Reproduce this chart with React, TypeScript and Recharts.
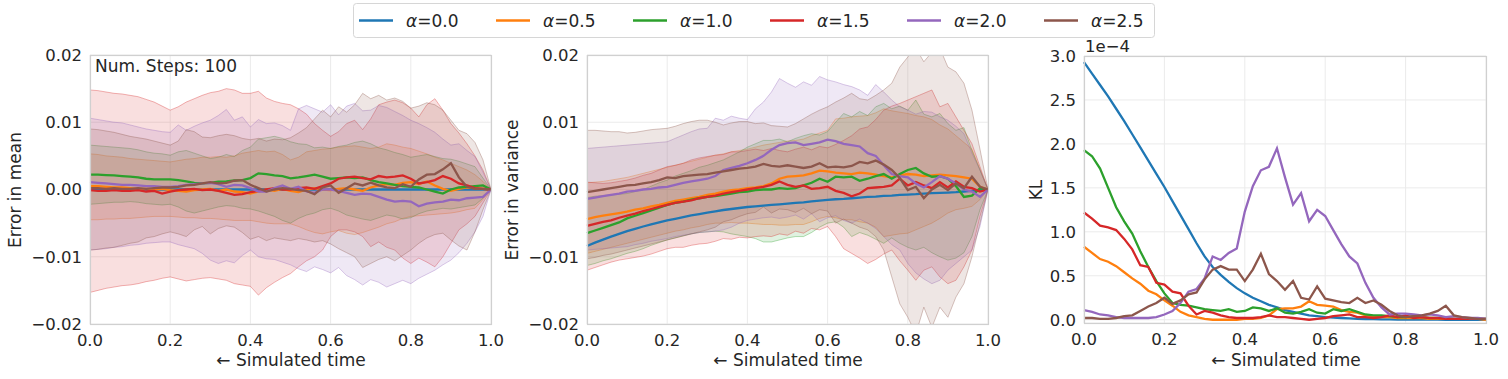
import { ComposedChart, Line, Area, XAxis, YAxis, CartesianGrid } from 'recharts';

const FONT = '"DejaVu Sans", Verdana, sans-serif';
const INK = '#262626';
const COLORS = ['#1f77b4', '#ff7f0e', '#2ca02c', '#d62728', '#9467bd', '#8c564b'];
const ALPHAS = ['0.0', '0.5', '1.0', '1.5', '2.0', '2.5'];

const TIME = [0, 0.02, 0.04, 0.06, 0.08, 0.1, 0.12, 0.14, 0.16, 0.18, 0.2, 0.22, 0.24, 0.26, 0.28, 0.3, 0.32, 0.34, 0.36, 0.38, 0.4, 0.42, 0.44, 0.46, 0.48, 0.5, 0.52, 0.54, 0.56, 0.58, 0.6, 0.62, 0.64, 0.66, 0.68, 0.7, 0.72, 0.74, 0.76, 0.78, 0.8, 0.82, 0.84, 0.86, 0.88, 0.9, 0.92, 0.94, 0.96, 0.98, 1];
const X_TICKS = [0, 0.2, 0.4, 0.6, 0.8, 1.0];
const ERR_TICKS = [-20, -10, 0, 10, 20]; // units of 1e-3
const KL_TICKS = [0, 0.5, 1.0, 1.5, 2.0, 2.5, 3.0]; // units of 1e-4

// error in mean (x1e-3)
const MEAN_A00 = [0,0,0,0,0,0,0,0,0,0,0,0,0,0,0,0,0,0,0,0,0,0,0,0,0,0,0,0,0,0,0,0,0,0,0,0,0,0,0,0,0,0,0,0,0,0,0,0,0,0,0];
const MEAN_A05 = [0.5,0.5,0.4,0.3,0.3,0.2,0.1,0.1,0.0,0.1,-0.1,-0.2,-0.3,-0.1,0.0,0.1,-0.2,0.0,-0.3,-0.4,-0.6,-0.3,0.0,-0.2,0.1,-0.2,-0.4,0.0,0.2,0.0,-0.1,0.1,0.2,0.0,-0.2,0.3,0.6,0.8,0.7,1.0,1.1,0.8,1.2,0.6,0.1,-0.2,0.1,0.3,0.2,0.1,0.0];
const MEAN_A10 = [2.2,2.2,2.15,2.1,2.0,1.9,1.8,1.6,1.5,1.5,1.5,1.4,1.2,1.0,0.9,1.0,1.15,1.2,1.35,1.4,1.7,2.4,2.3,2.1,2.0,1.65,1.8,2.0,2.2,1.9,1.6,1.7,1.8,1.7,1.8,1.4,1.1,0.9,0.7,0.5,0.4,0.3,0.0,-0.3,-0.6,0.0,0.3,0.4,0.5,0.6,0.0];
const MEAN_A15 = [-0.1,-0.2,-0.2,-0.1,-0.2,-0.2,-0.1,-0.3,-0.2,-0.6,-0.3,-0.1,0.0,0.1,-0.1,0.0,-0.2,-0.5,-0.8,-0.7,-0.4,-0.2,0.0,0.2,0.0,0.0,0.2,0.3,0.1,0.5,0.9,1.6,1.8,1.9,1.7,1.5,2.0,1.8,1.9,2.1,1.6,0.9,1.1,1.4,2.0,1.6,0.9,0.6,0.2,0.1,0.0];
const MEAN_A20 = [1.1,1.0,0.9,0.8,0.7,0.7,0.6,0.5,0.5,0.4,0.4,0.5,0.7,0.8,0.9,1.0,0.8,0.4,0.7,0.6,0.2,-0.3,-0.3,0.2,0.6,0.1,0.4,-0.3,-0.5,0.0,0.0,-0.2,-0.5,-0.8,-0.6,-0.7,-1.1,-1.5,-1.8,-1.7,-1.8,-2.5,-2.1,-1.9,-1.8,-1.5,-1.6,-1.3,-1.2,-1.1,0.0];
const MEAN_A25 = [0.2,0.2,0.1,0.2,0.1,0.1,0.2,0.1,0.2,0.3,0.3,0.4,0.6,0.7,0.9,1.1,0.9,1.0,1.3,1.4,0.7,0.2,-0.3,0.0,0.2,0.1,-0.1,-0.2,-0.7,0.3,0.6,-0.5,0.2,0.9,0.6,1.0,0.6,0.3,0.2,0.8,0.4,1.5,2.2,2.3,3.0,3.9,1.8,0.4,0.1,0.1,0.0];

const MEAN_HI_A05 = [5.3,5.2,5.0,4.9,4.8,4.6,4.5,4.4,4.3,4.2,4.1,4.3,4.5,4.6,4.8,4.8,4.9,4.8,5.0,5.4,5.6,5.8,5.6,5.7,5.2,4.4,4.8,5.6,5.8,6.0,6.1,6.3,6.4,6.5,6.3,6.1,6.3,6.8,6.6,6.3,6.1,5.7,5.3,4.8,4.4,3.9,3.4,2.9,2.2,1.2,0];
const MEAN_LO_A05 = [-4.5,-4.5,-4.4,-4.4,-4.3,-4.3,-4.2,-4.1,-4.0,-4.0,-4.0,-4.1,-4.2,-4.2,-4.3,-4.3,-4.4,-4.5,-4.6,-4.6,-4.6,-4.8,-5.0,-5.1,-5.1,-5.1,-5.5,-6.0,-6.4,-6.6,-6.3,-6.1,-6.5,-6.7,-6.4,-6.0,-5.6,-5.1,-4.8,-4.3,-4.0,-3.9,-3.8,-3.7,-3.6,-3.5,-3.3,-3.0,-2.8,-1.5,0];
const MEAN_HI_A10 = [6.6,6.5,6.4,6.3,6.2,6.1,5.9,5.6,5.4,5.3,5.1,5.6,5.8,5.4,5.0,4.6,4.8,5.2,4.9,5.8,6.3,7.5,7.7,7.9,7.6,7.1,6.8,6.7,6.2,6.3,6.1,6.4,6.6,7.0,7.2,6.8,6.2,5.9,5.5,5.2,4.8,5.0,5.2,4.9,4.6,4.5,4.2,3.8,3.4,1.7,0];
const MEAN_LO_A10 = [-2.2,-2.1,-2.0,-1.9,-1.9,-1.8,-1.9,-2.1,-2.2,-2.3,-2.2,-2.6,-3.2,-3.5,-3.2,-2.9,-2.6,-2.4,-2.5,-2.8,-2.9,-3.2,-3.6,-4.0,-4.6,-5.0,-4.3,-3.8,-3.5,-3.0,-2.8,-3.2,-3.8,-4.1,-4.4,-4.6,-4.2,-3.8,-4.0,-4.4,-4.2,-3.6,-3.2,-3.0,-2.8,-2.9,-2.7,-2.5,-2.3,-1.3,0];
const MEAN_HI_A15 = [14.8,14.7,14.5,14.3,14.2,14.0,13.8,13.4,13.0,12.4,11.8,12.3,13.0,13.5,14.0,14.4,14.6,15.0,14.8,14.3,14.3,14.6,13.6,13.1,12.8,12.6,12.0,11.2,9.8,8.8,7.9,8.6,9.8,10.3,8.9,10.5,12.6,13.0,13.3,12.9,12.1,10.8,12.6,13.5,11.8,9.8,8.4,6.8,5.0,2.9,0];
const MEAN_LO_A15 = [-15.3,-15.0,-14.7,-14.5,-14.3,-14.2,-14.0,-13.7,-13.5,-13.2,-13.0,-13.3,-13.6,-13.4,-13.2,-13.1,-13.3,-13.5,-14.0,-14.2,-14.4,-15.7,-14.6,-13.8,-13.1,-12.5,-11.5,-10.6,-10.0,-9.0,-7.0,-6.0,-6.0,-6.3,-7.0,-8.5,-7.8,-8.6,-9.0,-10.2,-11.0,-10.2,-10.8,-11.5,-10.0,-8.0,-6.0,-5.1,-4.0,-2.0,0];
const MEAN_HI_A20 = [10.6,10.4,10.2,10.0,9.9,9.6,9.3,9.0,8.8,8.6,8.5,9.6,8.8,9.4,9.9,10.3,11.0,11.9,10.3,10.8,9.3,10.4,9.8,9.9,9.5,8.8,12.0,12.5,12.0,11.5,12.6,11.1,12.4,12.8,11.7,11.8,12.5,12.2,11.6,11.0,10.3,9.8,9.2,8.5,7.5,6.6,6.8,5.8,4.9,2.6,0];
const MEAN_LO_A20 = [-9.0,-8.9,-8.8,-8.6,-8.5,-8.3,-8.2,-8.0,-7.9,-7.8,-7.8,-8.2,-8.5,-8.8,-9.5,-10.5,-11.0,-10.6,-10.9,-9.8,-9.0,-10.0,-10.3,-10.4,-10.8,-11.2,-11.8,-12.2,-11.5,-11.9,-12.4,-11.6,-12.8,-13.4,-14.2,-13.4,-13.8,-14.5,-14.0,-13.5,-14.0,-13.2,-12.6,-12.0,-11.2,-10.5,-9.4,-8.0,-6.3,-4.0,0];
const MEAN_HI_A25 = [9.0,8.9,8.7,8.5,8.2,7.9,7.7,7.5,7.2,6.9,6.6,7.2,8.9,8.6,7.8,7.7,8.0,8.2,8.0,7.6,7.4,7.6,7.2,7.5,7.4,7.7,8.4,9.2,10.5,11.8,10.8,12.3,11.5,12.6,14.3,13.5,14.0,13.3,13.6,13.1,12.1,12.4,12.9,12.6,11.8,10.3,8.8,8.3,7.0,4.4,0];
const MEAN_LO_A25 = [-9.0,-8.9,-8.7,-8.6,-8.3,-8.0,-7.8,-7.2,-7.0,-6.6,-6.3,-6.6,-7.0,-6.0,-5.5,-6.6,-5.8,-5.4,-5.6,-6.4,-7.4,-7.0,-7.6,-7.2,-7.4,-7.6,-7.3,-7.5,-7.8,-7.6,-8.1,-8.8,-9.4,-10.0,-11.6,-11.0,-10.4,-10.0,-10.6,-9.8,-9.0,-8.0,-7.2,-6.7,-6.5,-7.5,-8.4,-9.0,-6.3,-3.0,0];

// error in variance (x1e-3)
const VAR_A00 = [-8.4,-7.9,-7.45,-7.0,-6.6,-6.2,-5.85,-5.5,-5.2,-4.9,-4.6,-4.35,-4.1,-3.85,-3.65,-3.45,-3.25,-3.05,-2.9,-2.75,-2.6,-2.5,-2.4,-2.3,-2.2,-2.1,-2.0,-1.9,-1.75,-1.65,-1.55,-1.45,-1.4,-1.3,-1.2,-1.1,-1.05,-0.95,-0.9,-0.8,-0.75,-0.7,-0.6,-0.55,-0.5,-0.45,-0.4,-0.3,-0.2,-0.1,0];
const VAR_A05 = [-4.4,-4.1,-3.9,-3.7,-3.5,-3.3,-3.0,-2.8,-2.5,-2.3,-2.0,-1.7,-1.5,-1.3,-1.1,-0.8,-0.6,-0.3,-0.1,0.0,0.2,0.3,0.5,0.9,1.6,1.9,2.0,2.1,2.4,2.8,2.7,2.5,2.4,2.3,2.5,2.4,2.2,2.0,1.8,2.1,2.3,2.2,2.0,2.1,2.2,2.1,2.0,1.8,1.6,0.4,0];
const VAR_A10 = [-6.5,-6.1,-5.7,-5.3,-4.9,-4.3,-3.9,-3.5,-3.1,-2.7,-2.3,-2.0,-1.8,-1.5,-1.3,-1.1,-1.0,-0.8,-0.6,-0.4,-0.3,-0.1,0.0,0.0,0.2,0.1,0.2,0.6,1.0,1.6,1.15,1.9,1.8,1.9,1.3,1.6,2.0,2.3,1.6,2.3,2.9,3.2,2.4,1.9,2.0,1.6,0.5,-1.1,-0.9,0.2,0];
const VAR_A15 = [-5.4,-5.1,-4.8,-4.6,-4.2,-3.9,-3.6,-3.2,-2.9,-2.6,-2.3,-2.0,-1.8,-1.6,-1.3,-1.1,-0.9,-0.6,-0.4,-0.2,0.0,0.2,0.4,0.7,1.2,0.7,0.4,0.6,0.1,0.2,0.4,-0.2,-0.5,-1.0,-0.6,0.2,0.3,0.4,0.6,1.6,0.6,1.1,0.6,0.2,1.1,0.3,1.2,0.4,0.2,-0.3,0];
const VAR_A20 = [-1.4,-1.2,-1.0,-0.8,-0.6,-0.3,-0.2,0.0,0.1,0.3,0.4,0.7,1.0,1.2,1.4,1.6,2.0,2.9,3.2,3.5,3.9,4.4,5.0,5.9,6.6,6.9,7.0,6.6,6.8,7.0,7.4,7.2,6.8,6.6,6.4,5.4,5.0,3.6,2.3,2.0,1.8,0.9,0.3,1.1,2.0,1.6,0.9,0.0,-0.3,-1.1,0];
const VAR_A25 = [-0.4,-0.2,0.0,0.2,0.4,0.6,0.7,0.9,1.1,1.4,1.8,1.7,2.0,2.1,2.2,2.3,2.5,2.7,2.9,3.1,3.2,3.4,3.8,3.5,3.4,3.6,3.4,3.2,3.4,3.9,3.3,3.4,3.3,3.5,4.1,3.9,4.3,3.7,2.9,1.7,-0.1,0.4,-1.3,0.0,0.7,-0.1,0.9,0.2,1.9,0.4,0];

const VAR_HI_A05 = [1.0,1.1,1.2,1.4,1.6,1.8,2.1,2.4,2.7,3.0,3.3,3.6,3.9,4.2,4.5,4.8,5.1,5.3,5.6,5.8,6.0,6.3,6.6,6.8,7.0,7.2,7.3,7.5,8.0,8.4,8.8,10.5,10.6,10.8,10.9,11.0,11.4,12.0,11.7,11.5,11.3,11.0,10.8,10.4,9.6,9.0,8.0,7.0,6.0,3.0,0];
const VAR_LO_A05 = [-9.5,-9.2,-8.9,-8.6,-8.3,-8.0,-7.7,-7.4,-7.1,-6.8,-6.5,-6.2,-6.0,-5.7,-5.5,-5.2,-5.0,-5.0,-4.9,-5.0,-5.0,-5.1,-5.2,-5.2,-5.3,-5.3,-5.2,-5.2,-4.8,-4.3,-4.0,-4.2,-4.5,-4.5,-4.8,-5.0,-5.6,-7.0,-6.8,-6.6,-6.5,-6.0,-5.5,-5.0,-4.3,-3.5,-3.0,-2.8,-2.5,-1.5,0];
const VAR_HI_A10 = [-1.2,-1.0,-0.9,-0.8,-0.7,-0.6,-0.3,0.0,0.5,1.0,1.4,2.0,2.4,2.8,3.3,3.6,4.0,4.4,5.0,5.6,6.3,6.8,7.3,7.3,7.5,7.1,7.6,8.0,8.3,8.1,8.6,10.0,11.3,10.8,11.6,11.0,12.3,12.8,12.0,12.4,11.8,13.3,11.2,10.8,11.3,9.8,8.8,9.2,5.8,2.9,0];
const VAR_LO_A10 = [-11.3,-11.0,-10.6,-10.3,-9.9,-9.5,-9.2,-8.8,-8.3,-7.9,-7.5,-7.2,-6.9,-6.6,-6.4,-6.3,-6.2,-6.3,-6.6,-6.8,-7.0,-7.3,-7.8,-7.8,-7.5,-7.2,-7.0,-7.0,-6.4,-5.6,-5.0,-4.8,-5.6,-7.0,-6.4,-6.8,-7.4,-8.0,-7.2,-8.0,-8.6,-9.0,-8.6,-9.4,-10.0,-10.5,-10.2,-9.4,-7.0,-3.0,0];
const VAR_HI_A15 = [1.1,1.0,0.9,1.0,1.2,1.4,1.7,2.1,2.4,2.9,3.4,3.6,3.9,4.4,4.7,4.9,5.1,5.2,5.6,5.6,5.8,6.0,5.8,6.1,5.8,5.6,6.0,6.3,5.9,6.4,6.2,6.7,7.3,8.0,9.0,9.3,10.4,11.8,12.4,12.8,13.3,13.8,14.3,14.8,12.3,12.8,10.8,8.8,6.8,3.4,0];
const VAR_LO_A15 = [-12.0,-11.6,-11.2,-10.8,-10.5,-10.3,-10.1,-9.9,-9.6,-9.2,-8.8,-8.6,-8.6,-8.3,-8.1,-8.0,-7.7,-7.3,-7.4,-7.1,-7.2,-7.0,-6.9,-7.0,-6.6,-6.8,-6.2,-6.5,-5.8,-6.0,-5.5,-7.0,-8.8,-9.5,-10.2,-11.0,-10.4,-9.6,-9.0,-10.6,-12.0,-13.5,-12.0,-11.5,-13.0,-14.0,-13.5,-11.5,-9.0,-4.0,0];
const VAR_HI_A20 = [6.1,6.2,6.3,6.4,6.5,6.6,6.7,6.8,6.9,7.0,7.1,7.6,8.1,8.6,9.0,9.1,10.6,10.3,10.9,10.6,10.4,12.0,13.0,14.5,16.5,15.8,15.2,16.0,15.5,16.8,16.3,16.0,15.6,15.3,14.8,14.0,15.6,14.5,13.3,12.3,11.8,11.2,11.6,11.5,10.8,10.3,9.4,8.3,5.4,2.9,0];
const VAR_LO_A20 = [-9.0,-8.9,-8.8,-8.7,-8.6,-8.5,-8.2,-8.0,-7.7,-7.5,-7.3,-7.0,-6.8,-6.6,-6.4,-6.3,-6.2,-6.0,-5.6,-5.0,-4.6,-4.4,-4.2,-4.1,-4.3,-4.1,-3.8,-4.4,-3.6,-4.8,-4.2,-3.9,-4.6,-5.0,-4.4,-5.0,-5.8,-7.0,-8.2,-9.0,-11.0,-12.4,-13.3,-14.0,-13.5,-12.0,-11.0,-10.0,-9.0,-5.5,0];
const VAR_HI_A25 = [8.8,8.8,8.7,8.6,8.6,8.4,8.5,8.7,8.9,9.0,9.1,9.4,9.8,10.1,10.3,10.3,10.0,9.6,9.9,10.1,10.1,9.8,9.9,9.5,9.4,9.3,9.8,10.5,11.2,11.8,12.3,13.0,13.6,14.3,13.5,13.3,14.0,14.8,15.8,18.2,19.7,21.0,19.0,20.4,21.0,18.2,17.5,15.8,11.8,6.0,0];
const VAR_LO_A25 = [-10.3,-10.1,-9.8,-9.6,-9.3,-9.0,-8.7,-8.4,-8.1,-7.8,-7.5,-7.2,-6.9,-6.6,-6.3,-6.0,-5.6,-4.8,-4.5,-4.0,-3.6,-3.4,-2.6,-3.5,-2.9,-3.0,-3.4,-2.8,-3.6,-3.0,-3.2,-5.0,-4.4,-5.0,-5.6,-6.0,-7.0,-9.0,-13.0,-17.0,-19.0,-21.5,-17.5,-20.5,-17.5,-19.0,-16.0,-14.0,-10.0,-5.0,0];

// KL (x1e-4)
const KL_A00 = [2.93,2.80,2.67,2.54,2.40,2.26,2.11,1.96,1.81,1.66,1.51,1.35,1.19,1.03,0.87,0.72,0.60,0.51,0.43,0.36,0.30,0.25,0.21,0.17,0.14,0.11,0.09,0.07,0.05,0.04,0.03,0.025,0.02,0.015,0.01,0.008,0.006,0.005,0.004,0.003,0.002,0.002,0.001,0.001,0.001,0,0,0,0,0,0];
const KL_A05 = [0.83,0.76,0.69,0.66,0.61,0.54,0.47,0.41,0.33,0.29,0.22,0.16,0.09,0.05,0.03,0.01,0.00,0.00,0.00,0.00,0.01,0.01,0.02,0.05,0.12,0.13,0.13,0.15,0.21,0.17,0.16,0.15,0.11,0.09,0.08,0.05,0.04,0.03,0.03,0.02,0.02,0.02,0.02,0.01,0.01,0.01,0.01,0.01,0.01,0.01,0.00];
const KL_A10 = [1.93,1.86,1.72,1.50,1.28,1.12,0.98,0.78,0.60,0.44,0.30,0.19,0.17,0.16,0.14,0.12,0.11,0.10,0.12,0.09,0.10,0.14,0.13,0.10,0.13,0.08,0.07,0.09,0.12,0.08,0.07,0.12,0.10,0.12,0.09,0.06,0.05,0.05,0.04,0.03,0.03,0.04,0.03,0.02,0.02,0.02,0.01,0.01,0.01,0.01,0.01];
const KL_A15 = [1.22,1.15,1.07,1.05,1.02,0.92,0.80,0.62,0.60,0.42,0.40,0.32,0.30,0.16,0.06,0.10,0.08,0.05,0.03,0.02,0.02,0.02,0.03,0.05,0.03,0.03,0.02,0.01,0.00,0.01,0.02,0.04,0.05,0.06,0.03,0.03,0.02,0.03,0.05,0.03,0.05,0.02,0.03,0.02,0.02,0.01,0.01,0.01,0.01,0.01,0.01];
const KL_A20 = [0.11,0.09,0.06,0.05,0.03,0.02,0.02,0.02,0.02,0.03,0.06,0.10,0.19,0.32,0.35,0.47,0.72,0.68,0.76,0.81,1.23,1.52,1.70,1.74,1.95,1.62,1.31,1.44,1.12,1.25,1.18,1.02,0.86,0.72,0.64,0.42,0.25,0.14,0.06,0.07,0.07,0.06,0.05,0.06,0.05,0.03,0.04,0.03,0.02,0.02,0.01];
const KL_A25 = [0.02,0.02,0.01,0.01,0.02,0.04,0.05,0.10,0.15,0.19,0.25,0.18,0.22,0.29,0.31,0.46,0.57,0.61,0.57,0.57,0.44,0.57,0.75,0.52,0.44,0.34,0.44,0.25,0.23,0.38,0.24,0.22,0.20,0.19,0.25,0.19,0.22,0.17,0.10,0.05,0.03,0.04,0.05,0.07,0.10,0.16,0.05,0.03,0.02,0.01,0.01];

const MEAN = [MEAN_A00, MEAN_A05, MEAN_A10, MEAN_A15, MEAN_A20, MEAN_A25];
const MEAN_BANDS: [number, number[], number[]][] = [
  [1, MEAN_LO_A05, MEAN_HI_A05],
  [2, MEAN_LO_A10, MEAN_HI_A10],
  [3, MEAN_LO_A15, MEAN_HI_A15],
  [4, MEAN_LO_A20, MEAN_HI_A20],
  [5, MEAN_LO_A25, MEAN_HI_A25],
];
const VAR = [VAR_A00, VAR_A05, VAR_A10, VAR_A15, VAR_A20, VAR_A25];
const VAR_BANDS: [number, number[], number[]][] = [
  [1, VAR_LO_A05, VAR_HI_A05],
  [2, VAR_LO_A10, VAR_HI_A10],
  [3, VAR_LO_A15, VAR_HI_A15],
  [4, VAR_LO_A20, VAR_HI_A20],
  [5, VAR_LO_A25, VAR_HI_A25],
];
const KL = [KL_A00, KL_A05, KL_A10, KL_A15, KL_A20, KL_A25];

function buildRows(lines: number[][], bands: [number, number[], number[]][]) {
  return TIME.map((t, i) => {
    const row: any = { t };
    lines.forEach((s, k) => { row['m' + k] = s[i]; });
    bands.forEach(([k, lo, hi]) => { row['b' + k] = [lo[i], hi[i]]; });
    return row;
  });
}

const H = 379;
const tickStyle = { fontSize: 16.5, fill: INK, fontFamily: FONT };
const fmtErr = (v: number) => (v < 0 ? '\u2212' : '') + Math.abs(v / 1000).toFixed(2);

type PanelProps = {
  left: number; width: number;
  plotLeft: number; plotRight: number; plotTop: number; plotBottom: number;
  rows: any[]; bandIds: number[];
  yDomain: [number, number]; yTicks: number[]; yFmt: (v: number) => string;
};

function Panel(p: PanelProps) {
  return (
    <div style={{ position: 'absolute', left: p.left, top: 0 }}>
      <ComposedChart
        width={p.width}
        height={H}
        data={p.rows}
        margin={{ top: p.plotTop, right: p.width - (p.plotRight - p.left), bottom: 0, left: 0 }}
      >
        <CartesianGrid stroke="#ebebeb" strokeWidth={1} />
        <XAxis
          type="number" dataKey="t" domain={[0, 1]} ticks={X_TICKS} interval={0}
          tickFormatter={(v: number) => v.toFixed(1)}
          height={H - p.plotBottom} axisLine={false} tickLine={false} tickSize={0} tickMargin={10}
          tick={tickStyle}
        />
        <YAxis
          type="number" domain={p.yDomain} ticks={p.yTicks} interval={0} allowDataOverflow
          tickFormatter={p.yFmt} width={p.plotLeft - p.left}
          axisLine={false} tickLine={false} tickSize={0} tickMargin={8} tick={tickStyle}
        />
        {p.bandIds.map((k) => (
          <Area
            key={'b' + k} type="linear" dataKey={'b' + k}
            stroke={COLORS[k]} strokeOpacity={0.35} strokeWidth={1}
            fill={COLORS[k]} fillOpacity={0.15}
            dot={false} activeDot={false} isAnimationActive={false}
          />
        ))}
        {COLORS.map((c, k) => (
          <Line
            key={'m' + k} type="linear" dataKey={'m' + k} stroke={c} strokeWidth={2.3}
            dot={false} activeDot={false} isAnimationActive={false}
          />
        ))}
      </ComposedChart>
    </div>
  );
}

const PLOTS = [
  { x: 90, y: 55, w: 401, h: 269 },
  { x: 587, y: 55, w: 401, h: 269 },
  { x: 1084, y: 56, w: 402, h: 267 },
];

export default function App() {
  const meanRows = buildRows(MEAN, MEAN_BANDS);
  const varRows = buildRows(VAR, VAR_BANDS);
  const klRows = buildRows(KL, []);
  return (
    <div style={{ position: 'absolute', left: 0, top: 0, width: 1508, height: H, background: '#fff', overflow: 'hidden' }}>
      <Panel left={0} width={520} plotLeft={90} plotRight={491} plotTop={55} plotBottom={324}
        rows={meanRows} bandIds={[1, 2, 3, 4, 5]} yDomain={[-20, 20]} yTicks={ERR_TICKS} yFmt={fmtErr} />
      <Panel left={490} width={530} plotLeft={587} plotRight={988} plotTop={55} plotBottom={324}
        rows={varRows} bandIds={[1, 2, 3, 4, 5]} yDomain={[-20, 20]} yTicks={ERR_TICKS} yFmt={fmtErr} />
      <Panel left={990} width={518} plotLeft={1084} plotRight={1486} plotTop={56} plotBottom={323}
        rows={klRows} bandIds={[]} yDomain={[-0.037, 3.0]} yTicks={KL_TICKS} yFmt={(v) => v.toFixed(1)} />

      <svg width={1508} height={H} style={{ position: 'absolute', left: 0, top: 0, pointerEvents: 'none' }}
        fontFamily={FONT} fill={INK}>
        {PLOTS.map((r, i) => (
          <rect key={i} x={r.x + 0.5} y={r.y + 0.5} width={r.w} height={r.h} fill="none" stroke="#d0d0d0" strokeWidth={1.2} />
        ))}
        <text x={95} y={72} fontSize={17}>Num. Steps: 100</text>
        <text x={1085} y={52} fontSize={16.5}>1e−4</text>

        <text transform="translate(21,190) rotate(-90)" textAnchor="middle" fontSize={17}>Error in mean</text>
        <text transform="translate(518,190) rotate(-90)" textAnchor="middle" fontSize={17}>Error in variance</text>
        <text transform="translate(1042,190) rotate(-90)" textAnchor="middle" fontSize={17}>KL</text>

        <text x={291} y={366} textAnchor="middle" fontSize={17}>← Simulated time</text>
        <text x={788} y={366} textAnchor="middle" fontSize={17}>← Simulated time</text>
        <text x={1286} y={366} textAnchor="middle" fontSize={17}>← Simulated time</text>

        <rect x={353.5} y={3.5} width={801} height={34} rx={3} fill="#fff" stroke="#d6d6d6" strokeWidth={1} />
        {ALPHAS.map((a, i) => {
          const x0 = 359 + i * 137;
          return (
            <g key={a}>
              <line x1={x0} x2={x0 + 34} y1={20.5} y2={20.5} stroke={COLORS[i]} strokeWidth={2.3} />
              <text x={x0 + 47} y={26.5} fontSize={17}>
                <tspan fontStyle="italic">α</tspan>=<tspan>{a}</tspan>
              </text>
            </g>
          );
        })}
      </svg>
    </div>
  );
}
